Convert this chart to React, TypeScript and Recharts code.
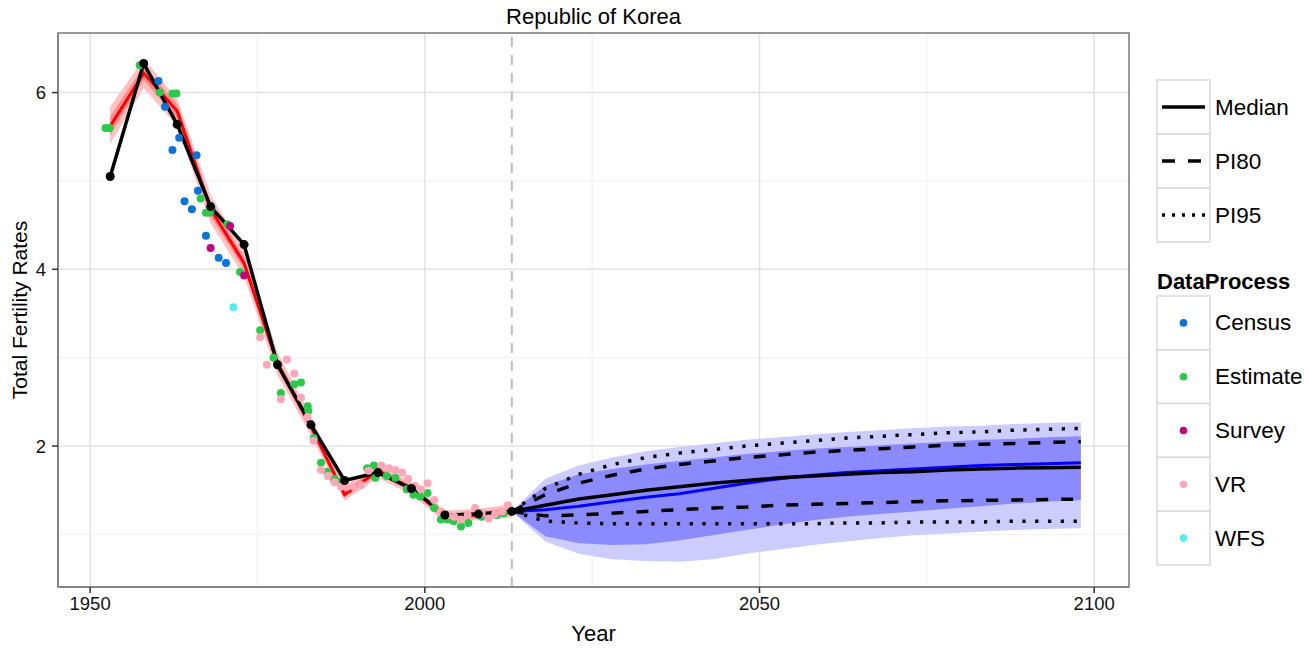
import React from 'react';
import {
  ComposedChart,
  Line,
  Area,
  Scatter,
  XAxis,
  YAxis,
  CartesianGrid,
  ReferenceLine,
  ReferenceArea,
  Label,
} from 'recharts';

// Five-year periods (mid-year) of the estimation part
const histYears = [1953, 1958, 1963, 1968, 1973, 1978, 1983, 1988, 1993, 1998, 2003, 2008, 2013];
const histMedian = [5.05, 6.33, 5.64, 4.71, 4.28, 2.92, 2.24, 1.61, 1.7, 1.52, 1.22, 1.23, 1.26];
const estMedian = [5.62, 6.22, 5.79, 4.68, 4.07, 2.93, 2.22, 1.45, 1.72, 1.52, 1.2, 1.22, 1.26];
const estLo80 = [5.52, 6.14, 5.71, 4.6, 4.0, 2.87, 2.17, 1.42, 1.68, 1.48, 1.17, 1.19, 1.22];
const estHi80 = [5.73, 6.3, 5.87, 4.76, 4.14, 2.99, 2.28, 1.5, 1.76, 1.56, 1.23, 1.26, 1.3];
const estLo95 = [5.42, 6.05, 5.62, 4.52, 3.92, 2.8, 2.12, 1.38, 1.64, 1.45, 1.14, 1.16, 1.19];
const estHi95 = [5.84, 6.38, 5.93, 4.84, 4.22, 3.06, 2.33, 1.55, 1.8, 1.59, 1.27, 1.29, 1.34];

// Projection periods
const projYears = [2013, 2018, 2023, 2028, 2033, 2038, 2043, 2048, 2053, 2058, 2063, 2068, 2073, 2078, 2083, 2088, 2093, 2098];
const projMedian = [1.26, 1.33, 1.4, 1.45, 1.5, 1.54, 1.58, 1.61, 1.64, 1.66, 1.68, 1.7, 1.71, 1.73, 1.74, 1.75, 1.755, 1.76];
const projLo80 = [1.26, 1.21, 1.22, 1.24, 1.26, 1.28, 1.3, 1.31, 1.33, 1.34, 1.35, 1.36, 1.37, 1.38, 1.385, 1.39, 1.395, 1.4];
const projHi80 = [1.26, 1.45, 1.58, 1.67, 1.74, 1.79, 1.83, 1.87, 1.9, 1.93, 1.95, 1.97, 1.99, 2.01, 2.02, 2.03, 2.04, 2.05];
const projLo95 = [1.26, 1.15, 1.13, 1.12, 1.12, 1.12, 1.12, 1.12, 1.12, 1.12, 1.13, 1.13, 1.14, 1.14, 1.14, 1.15, 1.15, 1.15];
const projHi95 = [1.26, 1.52, 1.68, 1.79, 1.87, 1.92, 1.96, 2.0, 2.03, 2.06, 2.09, 2.11, 2.13, 2.15, 2.16, 2.18, 2.19, 2.2];

// Trajectory-based median and intervals (blue)
const trajMedian = [1.26, 1.28, 1.32, 1.37, 1.42, 1.46, 1.52, 1.58, 1.63, 1.67, 1.7, 1.72, 1.74, 1.76, 1.78, 1.79, 1.8, 1.81];
const trajLo80 = [1.26, 0.98, 0.9, 0.88, 0.89, 0.93, 0.99, 1.05, 1.11, 1.16, 1.2, 1.23, 1.26, 1.29, 1.32, 1.35, 1.37, 1.39];
const trajHi80 = [1.26, 1.55, 1.68, 1.74, 1.79, 1.83, 1.87, 1.91, 1.94, 1.97, 1.99, 2.01, 2.03, 2.05, 2.07, 2.08, 2.1, 2.11];
const trajLo95 = [1.26, 0.92, 0.78, 0.72, 0.7, 0.69, 0.72, 0.78, 0.83, 0.88, 0.92, 0.96, 0.99, 1.01, 1.03, 1.05, 1.06, 1.07];
const trajHi95 = [1.26, 1.63, 1.78, 1.87, 1.94, 1.99, 2.03, 2.07, 2.1, 2.13, 2.16, 2.18, 2.2, 2.22, 2.23, 2.25, 2.26, 2.27];

// Observed data points [year, TFR]
const censusPoints = [
  [1960.2, 6.13], [1961.2, 5.84], [1962.3, 5.35], [1963.3, 5.49], [1964.1, 4.77], [1965.2, 4.68],
  [1965.9, 5.29], [1966.1, 4.89], [1967.3, 4.38], [1968.1, 4.69], [1969.2, 4.13], [1970.3, 4.07],
];
const estimatePoints = [
  [1952.3, 5.6], [1952.9, 5.6], [1957.4, 6.31], [1960.4, 6.0], [1962.3, 5.99], [1962.9, 5.99],
  [1966.5, 4.8], [1967.3, 4.64], [1967.9, 4.64], [1970.5, 4.51], [1972.4, 3.97], [1975.4, 3.31],
  [1977.4, 3.0], [1978.5, 2.6], [1980.5, 2.7], [1981.5, 2.72], [1982.5, 2.45], [1982.6, 2.4],
  [1983.4, 2.09], [1984.5, 1.81], [1985.4, 1.71], [1986.4, 1.63], [1986.9, 1.6], [1991.4, 1.75],
  [1992.4, 1.78], [1992.6, 1.64], [1994.3, 1.66], [1995.6, 1.64], [1997.3, 1.51], [1998.3, 1.45],
  [1999.3, 1.43], [2000.4, 1.47], [2001.4, 1.3], [2002.4, 1.17], [2003.4, 1.17], [2004.3, 1.15],
  [2005.4, 1.09], [2006.5, 1.13], [2008.5, 1.2], [2010.8, 1.22], [2011.8, 1.24],
];
const surveyPoints = [[1968.0, 4.24], [1970.9, 4.49], [1973.0, 3.93]];
const vrPoints = [
  [1975.4, 3.23], [1976.4, 2.92], [1978.5, 2.53], [1979.4, 2.98], [1980.5, 2.82], [1981.5, 2.55],
  [1982.5, 2.33], [1983.4, 2.06], [1984.5, 1.73], [1985.5, 1.66], [1986.5, 1.59], [1987.5, 1.54],
  [1988.4, 1.54], [1989.4, 1.54], [1990.5, 1.56], [1991.6, 1.72], [1993.5, 1.78], [1994.6, 1.75],
  [1995.6, 1.73], [1996.6, 1.7], [1997.5, 1.63], [1998.5, 1.55], [1999.4, 1.51], [2000.4, 1.58],
  [2001.4, 1.39], [2002.4, 1.26], [2003.4, 1.22], [2004.4, 1.2], [2005.4, 1.17], [2006.4, 1.22],
  [2007.5, 1.3], [2008.5, 1.24], [2009.5, 1.18], [2010.5, 1.23], [2011.5, 1.26], [2012.4, 1.33],
];
const wfsPoints = [[1971.4, 3.57]];

const xTicks = [1950, 2000, 2050, 2100];
const xMinor = [1975, 2025, 2075];
const yTicks = [2, 4, 6];
const yMinor = [1, 3, 5];
const lastObservedYear = 2013;

const X_DOMAIN: [number, number] = [1945.2, 2105.2];
const Y_DOMAIN: [number, number] = [0.405, 6.674];

const FONT = '"Liberation Sans", Arial, Helvetica, sans-serif';

const histRows = histYears.map((year, i) => ({
  year,
  median: histMedian[i],
  est: estMedian[i],
  band80: [estLo80[i], estHi80[i]],
  band95: [estLo95[i], estHi95[i]],
}));

const projRows = projYears.map((year, i) => ({
  year,
  median: projMedian[i],
  lo80: projLo80[i],
  hi80: projHi80[i],
  lo95: projLo95[i],
  hi95: projHi95[i],
  traj: trajMedian[i],
  traj80: [trajLo80[i], trajHi80[i]],
  traj95: [trajLo95[i], trajHi95[i]],
}));

const toRows = (pts: number[][]) => pts.map(([year, tfr]) => ({ year, tfr }));

const pointSeries = [
  { name: 'Census', color: '#0a72d8', rows: toRows(censusPoints) },
  { name: 'Estimate', color: '#2cc84a', rows: toRows(estimatePoints) },
  { name: 'Survey', color: '#c0067f', rows: toRows(surveyPoints) },
  { name: 'VR', color: '#ffa7b8', rows: toRows(vrPoints) },
  { name: 'WFS', color: '#55eced', rows: toRows(wfsPoints) },
];

const dot = (color: string, r: number) => (props: any) =>
  props.cx == null ? <g /> : <circle cx={props.cx} cy={props.cy} r={r} fill={color} />;

const lineKeys = [
  { name: 'Median', dash: undefined },
  { name: 'PI80', dash: '13 13' },
  { name: 'PI95', dash: '3 7' },
];

function LegendPanel() {
  const boxX = 1157;
  const boxW = 53;
  const rowH = 54;
  return (
    <svg
      width={1311}
      height={649}
      style={{ position: 'absolute', left: 0, top: 0, pointerEvents: 'none' }}
    >
      {lineKeys.map((k, i) => {
        const y = 80 + i * rowH;
        return (
          <g key={k.name}>
            <rect x={boxX} y={y} width={boxW} height={rowH} fill="#fff" stroke="#d9d9d9" strokeWidth={1.5} />
            <line
              x1={boxX + 5}
              x2={boxX + boxW - 5}
              y1={y + rowH / 2}
              y2={y + rowH / 2}
              stroke="#000"
              strokeWidth={3.5}
              strokeDasharray={k.dash}
            />
            <text x={1215} y={y + rowH / 2} dominantBaseline="central" fontSize={22.5} fontFamily={FONT}>
              {k.name}
            </text>
          </g>
        );
      })}
      <text x={boxX} y={281} dominantBaseline="central" fontSize={22} fontWeight="bold" fontFamily={FONT}>
        DataProcess
      </text>
      {pointSeries.map((s, i) => {
        const y = 296 + i * 53.8;
        return (
          <g key={s.name}>
            <rect x={boxX} y={y} width={boxW} height={53.8} fill="#fff" stroke="#d9d9d9" strokeWidth={1.5} />
            <circle cx={boxX + boxW / 2} cy={y + 26.9} r={3.8} fill={s.color} />
            <text x={1215} y={y + 26.9} dominantBaseline="central" fontSize={22.5} fontFamily={FONT}>
              {s.name}
            </text>
          </g>
        );
      })}
    </svg>
  );
}

export default function App() {
  return (
    <div
      style={{
        position: 'absolute',
        left: 0,
        top: 0,
        width: 1311,
        height: 649,
        background: '#fff',
        fontFamily: FONT,
      }}
    >
      <div
        style={{
          position: 'absolute',
          left: 58,
          width: 1071,
          top: 5,
          textAlign: 'center',
          fontSize: 22,
          lineHeight: '24px',
          color: '#000',
        }}
      >
        Republic of Korea
      </div>
      <ComposedChart
        width={1311}
        height={649}
        margin={{ top: 33, right: 182, bottom: 0, left: 0 }}
        style={{ position: 'absolute', left: 0, top: 0 }}
      >
        {/* faint minor grid on hidden axes, major grid on the visible ticks */}
        <CartesianGrid xAxisId="minor" yAxisId="minor" stroke="#f3f3f3" strokeWidth={1.5} />
        <CartesianGrid stroke="#e3e3e3" strokeWidth={1.5} />
        <XAxis
          xAxisId="minor"
          type="number"
          dataKey="year"
          domain={X_DOMAIN}
          allowDataOverflow
          ticks={xMinor}
          hide
        />
        <YAxis
          yAxisId="minor"
          type="number"
          domain={Y_DOMAIN}
          allowDataOverflow
          ticks={yMinor}
          hide
        />
        <XAxis
          type="number"
          dataKey="year"
          domain={X_DOMAIN}
          allowDataOverflow
          ticks={xTicks}
          height={62}
          tickSize={6}
          tickMargin={4}
          tickLine={{ stroke: '#333', strokeWidth: 1.5 }}
          axisLine={{ stroke: '#7f7f7f', strokeWidth: 1.5 }}
          tick={{ fill: '#111', fontSize: 18.5, fontFamily: FONT }}
        >
          <Label
            content={(p: any) => {
              const vb = p.viewBox;
              return (
                <text
                  x={vb.x + vb.width / 2}
                  y={641}
                  textAnchor="middle"
                  fontSize={22}
                  fontFamily={FONT}
                  fill="#000"
                >
                  Year
                </text>
              );
            }}
          />
        </XAxis>
        <YAxis
          type="number"
          domain={Y_DOMAIN}
          allowDataOverflow
          ticks={yTicks}
          width={58}
          tickSize={6}
          tickMargin={6}
          tickLine={{ stroke: '#333', strokeWidth: 1.5 }}
          axisLine={{ stroke: '#7f7f7f', strokeWidth: 1.5 }}
          tick={{ fill: '#111', fontSize: 18.5, fontFamily: FONT }}
        >
          <Label
            content={(p: any) => {
              const vb = p.viewBox;
              const cy = vb.y + vb.height / 2;
              return (
                <text
                  transform={`translate(27,${cy}) rotate(-90)`}
                  textAnchor="middle"
                  fontSize={21}
                  fontFamily={FONT}
                  fill="#000"
                >
                  Total Fertility Rates
                </text>
              );
            }}
          />
        </YAxis>

        {/* projection bands */}
        <Area
          data={projRows}
          dataKey="traj95"
          stroke="none"
          fill="#ccccff"
          fillOpacity={1}
          isAnimationActive={false}
        />
        <Area
          data={projRows}
          dataKey="traj80"
          stroke="none"
          fill="#8b8bff"
          fillOpacity={1}
          isAnimationActive={false}
        />

        {/* estimation bands */}
        <Area
          data={histRows}
          dataKey="band95"
          stroke="none"
          fill="#ffc2c2"
          fillOpacity={1}
          isAnimationActive={false}
        />
        <Area
          data={histRows}
          dataKey="band80"
          stroke="none"
          fill="#ff8c8c"
          fillOpacity={1}
          isAnimationActive={false}
        />

        {pointSeries.map((s) => (
          <Scatter
            key={s.name}
            name={s.name}
            data={s.rows}
            dataKey="tfr"
            fill={s.color}
            shape={dot(s.color, 4)}
            isAnimationActive={false}
          />
        ))}

        <Line
          data={histRows}
          dataKey="est"
          stroke="#ff0000"
          strokeWidth={3}
          dot={false}
          isAnimationActive={false}
        />

        <ReferenceLine
          x={lastObservedYear}
          stroke="#bdbdbd"
          strokeWidth={2}
          strokeDasharray="10 8"
        />

        <Line
          data={projRows}
          dataKey="traj"
          stroke="#0000ff"
          strokeWidth={3}
          dot={false}
          isAnimationActive={false}
        />
        <Line
          data={projRows}
          dataKey="hi95"
          stroke="#000"
          strokeWidth={3.5}
          strokeDasharray="3.3 9.5"
          dot={false}
          isAnimationActive={false}
        />
        <Line
          data={projRows}
          dataKey="lo95"
          stroke="#000"
          strokeWidth={3.5}
          strokeDasharray="3.3 9.5"
          dot={false}
          isAnimationActive={false}
        />
        <Line
          data={projRows}
          dataKey="hi80"
          stroke="#000"
          strokeWidth={3.5}
          strokeDasharray="12 13"
          dot={false}
          isAnimationActive={false}
        />
        <Line
          data={projRows}
          dataKey="lo80"
          stroke="#000"
          strokeWidth={3.5}
          strokeDasharray="12 13"
          dot={false}
          isAnimationActive={false}
        />
        <Line
          data={projRows}
          dataKey="median"
          stroke="#000"
          strokeWidth={3.5}
          dot={false}
          isAnimationActive={false}
        />
        <Line
          data={histRows}
          dataKey="median"
          stroke="#000"
          strokeWidth={3.5}
          dot={dot('#000', 4.5)}
          isAnimationActive={false}
        />

        <ReferenceArea
          x1={X_DOMAIN[0]}
          x2={X_DOMAIN[1]}
          y1={Y_DOMAIN[0]}
          y2={Y_DOMAIN[1]}
          fill="none"
          stroke="#7f7f7f"
          strokeWidth={1.5}
        />
      </ComposedChart>
      <LegendPanel />
    </div>
  );
}
